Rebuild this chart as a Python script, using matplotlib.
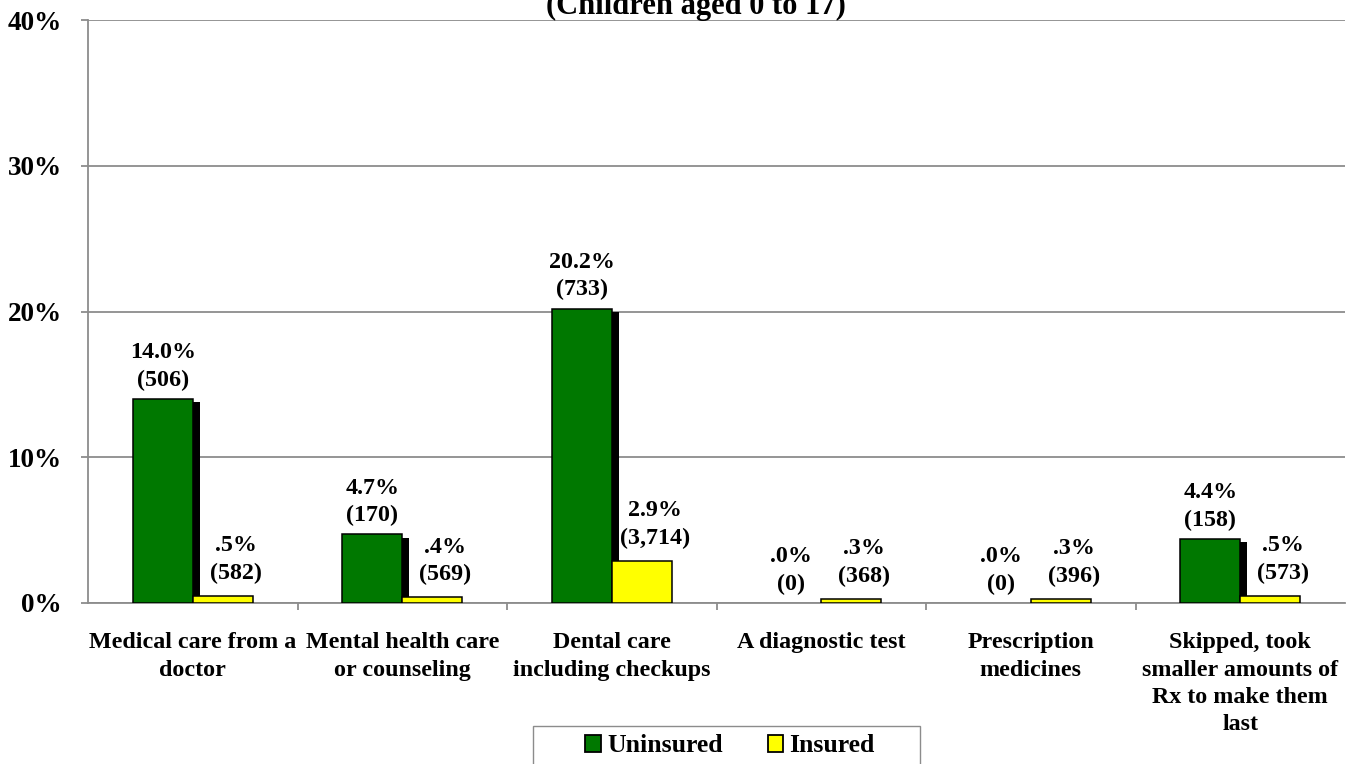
import matplotlib
matplotlib.use("Agg")
import matplotlib.pyplot as plt
import matplotlib.patheffects as pe
from matplotlib.patches import Rectangle
import numpy as np

plt.rcParams['font.family'] = ['Liberation Serif', 'DejaVu Serif']
plt.rcParams['font.weight'] = 'bold'

# categories and values
CATEGORIES = [
    "Medical care from a\ndoctor",
    "Mental health care\nor counseling",
    "Dental care\nincluding checkups",
    "A diagnostic test",
    "Prescription\nmedicines",
    "Skipped, took\nsmaller amounts of\nRx to make them\nlast",
]
UNINSURED = [14.0, 4.7, 20.2, 0.0, 0.0, 4.4]
UNINSURED_N = ["506", "170", "733", "0", "0", "158"]
UNINSURED_TXT = ["14.0%", "4.7%", "20.2%", ".0%", ".0%", "4.4%"]
INSURED = [0.5, 0.4, 2.9, 0.3, 0.3, 0.5]
INSURED_N = ["582", "569", "3,714", "368", "396", "573"]
INSURED_TXT = [".5%", ".4%", "2.9%", ".3%", ".3%", ".5%"]
YTICKS = [0, 10, 20, 30, 40]

GREEN = "#007800"
YELLOW = "#FFFF00"
GRAY = "#8c8c8c"

fig = plt.figure(figsize=(13.5, 7.64), dpi=100)
ax = fig.add_axes([88/1350, 1-603/764, (1345-88)/1350, (603-20)/764])

x = np.arange(len(CATEGORIES))
w = 0.286

shadow = [pe.SimplePatchShadow(offset=(5, -2.2), shadow_rgbFace='black', alpha=1.0), pe.Normal()]
gbars = ax.bar(x - w/2, UNINSURED, w, color=GREEN, edgecolor='black', linewidth=1.1, zorder=3)
for b, v in zip(gbars, UNINSURED):
    if v > 0:
        b.set_path_effects(shadow)
    else:
        b.set_linewidth(0)
ybars = ax.bar(x + w/2, INSURED, w, color=YELLOW, edgecolor='black', linewidth=1.1, zorder=4)

for i in range(len(CATEGORIES)):
    ax.annotate(f"{UNINSURED_TXT[i]}\n({UNINSURED_N[i]})", (x[i] - w/2, UNINSURED[i]),
                xytext=(0, 6), textcoords="offset points", ha='center', va='bottom',
                fontsize=17.3, fontweight='bold', linespacing=1.4, zorder=5)
    ax.annotate(f"{INSURED_TXT[i]}\n({INSURED_N[i]})", (x[i] + w/2, INSURED[i]),
                xytext=(9.5, 8.5), textcoords="offset points", ha='center', va='bottom',
                fontsize=17.3, fontweight='bold', linespacing=1.4, zorder=5)

ax.set_xlim(-0.5, len(CATEGORIES) - 0.5)
ax.set_ylim(0, 40)
ax.set_yticks(YTICKS)
ax.set_yticklabels([f"{t}%" for t in YTICKS], fontsize=19.5, fontweight='bold')
ax.set_xticks(x)
ax.set_xticklabels(CATEGORIES, fontsize=17.3, fontweight='bold', linespacing=1.4)
ax.set_xticks(np.arange(0.5, len(CATEGORIES) - 0.5, 1.0), minor=True)
ax.tick_params(axis='x', which='major', length=0, pad=21)
ax.tick_params(axis='x', which='minor', length=5, width=1.3, color=GRAY, direction='out')
ax.tick_params(axis='y', length=5, width=1.3, color=GRAY, pad=14)

ax.grid(axis='y', color=GRAY, linewidth=1.3, zorder=0)
ax.set_axisbelow(True)
for s in ['top', 'right']:
    ax.spines[s].set_visible(False)
for s in ['left', 'bottom']:
    ax.spines[s].set_color(GRAY)
    ax.spines[s].set_linewidth(1.3)
    ax.spines[s].set_zorder(2)

fig.text(696/1350, 1-14/764, "(Children aged 0 to 17)", ha='center', va='baseline',
         fontsize=22, fontweight='bold')

# legend frame running off the bottom edge
fig.patches.append(Rectangle((533/1350, -0.02), (920-533)/1350, 0.02 + (764-726)/764,
                             transform=fig.transFigure, facecolor='white',
                             edgecolor=GRAY, linewidth=1.0))
handles = [Rectangle((0, 0), 1, 1, facecolor=GREEN, edgecolor='black', linewidth=1.3),
           Rectangle((0, 0), 1, 1, facecolor=YELLOW, edgecolor='black', linewidth=1.3)]
leg = fig.legend(handles, ["Uninsured", "Insured"], loc='center',
                 bbox_to_anchor=(730/1350, 1-746/764), ncol=2, frameon=False,
                 prop={'family': 'Liberation Serif', 'weight': 'bold', 'size': 18.5},
                 handlelength=0.6, handleheight=0.6, handletextpad=0.25, columnspacing=1.75,
                 borderpad=0)

fig.savefig("out.png", dpi=100)
